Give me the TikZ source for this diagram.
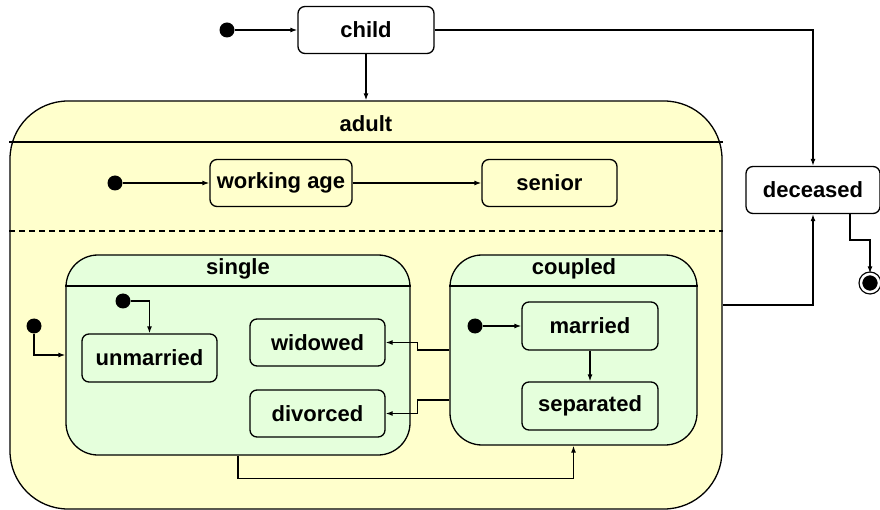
\documentclass[tikz,border=0pt]{standalone}
\usepackage{fontspec}
\setmainfont{Liberation Sans}
\usetikzlibrary{arrows.meta}
\definecolor{adultyellow}{RGB}{255,255,204}
\definecolor{phasegreen}{RGB}{229,255,220}
\begin{document}
\begin{tikzpicture}[x=1pt,y=-1pt,
    font=\bfseries\fontsize{22}{24}\selectfont,
    line width=1.3pt,
    stbox/.style={draw,rounded corners=7,minimum width=136,minimum height=47,inner sep=2},
    region/.style={draw,rounded corners=#1,inner sep=0},
    startdot/.style={circle,fill=black,inner sep=0,minimum size=15},
    enddot/.style={circle,draw,fill=black,double=white,double distance=2.5pt,inner sep=0,minimum size=18}]
      \useasboundingbox (0,0) rectangle (880,510);
      \node[region=58,fill=adultyellow,minimum width=712,minimum height=408] (adult) at (366,305) {};
      \node at (366,124) {adult};
      \draw (adult.west |- 0,142) -- (adult.east |- 0,142);
      \draw[dash pattern=on 6pt off 4pt] (adult.west |- 0,231) -- (adult.east |- 0,231);
      \node[region=32,fill=phasegreen,minimum width=344,minimum height=200] (single) at (238,355) {};
      \node at (238,269) {single};
      \draw (single.west |- 0,286) -- (single.east |- 0,286);
      \node[region=32,fill=phasegreen,minimum width=247,minimum height=190] (coupled) at (573.5,350) {};
      \node at (574,269) {coupled};
      \draw (coupled.west |- 0,286) -- (coupled.east |- 0,286);
      \draw
        (227,30) node[startdot] (s1) {}
        (366,30) node[stbox,fill=white] (child) {child}
        (813,190) node[stbox,fill=white,minimum width=134] (deceased) {deceased}
        (870,283) node[enddot] (end) {}
        (115,183) node[startdot] (s2) {}
        (281,183) node[stbox,fill=adultyellow,minimum width=142] (workage) {working age}
        (549.5,183) node[stbox,fill=adultyellow,minimum width=135] (senior) {senior}
        (34,326) node[startdot] (s3) {}
        (123,301) node[startdot] (s4) {}
        (149.5,358) node[stbox,fill=phasegreen,minimum width=135,minimum height=48] (unmarried) {unmarried}
        (317.5,342.5) node[stbox,fill=phasegreen,minimum width=135] (widowed) {widowed}
        (317.5,413.5) node[stbox,fill=phasegreen,minimum width=135] (divorced) {divorced}
        (475,326) node[startdot] (s5) {}
        (590,326) node[stbox,fill=phasegreen,minimum height=48] (married) {married}
        (590,406) node[stbox,fill=phasegreen,minimum height=48] (separated) {separated};
      \begin{scope}[-{Latex[length=7pt,width=5pt]}]
        \draw (s1) to (child);
        \draw (child) to (adult);
        \draw (child) -| (deceased);
        \draw (adult) -| (deceased);
        \draw ([xshift=37pt]deceased.south) -- ++(0,26) -| (end);
        \draw (s2) to (workage);
        \draw (workage) to (senior);
        \draw (s3) |- (single);
        \draw (s4) -| (unmarried);
        \draw (single.south) -- ++(0,23) -| (coupled.south);
        \draw (coupled.west) -- ++(-32,0) |- (widowed);
        \draw ([yshift=-50pt]coupled.west) -- ++(-32,0) |- (divorced);
        \draw (s5) to (married);
        \draw (married) to (separated);
      \end{scope}
    \end{tikzpicture}
\end{document}
